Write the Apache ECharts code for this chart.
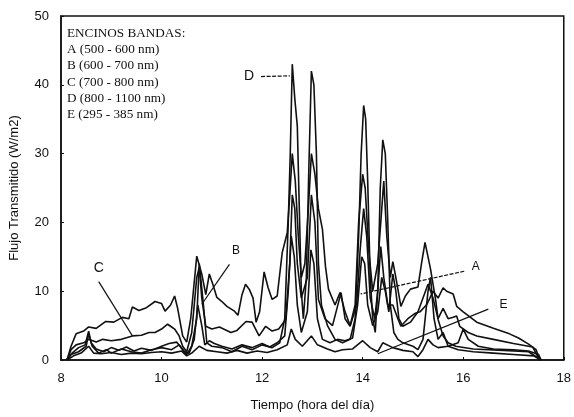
<!DOCTYPE html>
<html>
<head>
<meta charset="utf-8">
<script src="https://cdn.jsdelivr.net/npm/echarts@6/dist/echarts.min.js"></script>
<style>html,body{margin:0;padding:0;background:#fff}#c{width:574px;height:417px}</style>
</head>
<body>
<div id="c"></div>
<script>
// ---- data (hour of day, W/m2) ----
const xTicks = [8, 10, 12, 14, 16, 18];
const yTicks = [0, 10, 20, 30, 40, 50];

const timeD = [8.10,8.20,8.35,8.50,8.55,8.62,8.75,8.9,9.0,9.2,9.4,9.6,9.8,10.0,10.2,10.35,10.5,10.6,10.7,10.75,10.82,10.9,11.0,11.2,11.4,11.6,11.8,12.0,12.2,12.35,12.45,12.52,12.56,12.6,12.65,12.7,12.74,12.78,12.82,12.88,12.93,12.98,13.03,13.08,13.12,13.18,13.3,13.45,13.6,13.75,13.85,13.92,13.97,14.02,14.06,14.1,14.15,14.2,14.25,14.3,14.35,14.4,14.45,14.5,14.55,14.62,14.7,14.8,15.0,15.1,15.2,15.3,15.35,15.42,15.5,15.6,15.7,15.9,16.2,16.6,17.0,17.4,17.55];
const fluxD = [0,0.8,1.2,2.0,3.8,2.0,1.0,1.5,1.0,1.6,1.2,1.0,1.5,1.8,1.5,2.2,0.8,2.0,6,14,9,2.5,2.0,1.8,1.2,2.0,1.5,2.2,1.8,2.5,6,20,30,43,38,34,22,10,6,12,28,42,40,30,14,8,5,3,2.5,3,6,18,30,37,35,26,12,6,4,10,25,32,30,20,8,4,3,2.5,2.0,1.5,3,10,12,6,3,4,2,1.5,1.2,1.0,0.8,0.6,0];

const timeC = [8.12,8.2,8.3,8.45,8.55,8.7,8.89,9.05,9.22,9.35,9.42,9.55,9.7,9.87,10.0,10.07,10.18,10.26,10.32,10.42,10.5,10.58,10.7,10.8,10.88,10.95,11.02,11.1,11.2,11.3,11.45,11.52,11.6,11.67,11.75,11.82,11.88,11.95,12.04,12.12,12.2,12.3,12.4,12.5,12.55,12.6,12.66,12.72,12.78,12.85,12.92,12.98,13.05,13.12,13.2,13.26,13.32,13.45,13.55,13.65,13.75,13.85,13.92,14.0,14.05,14.12,14.2,14.3,14.36,14.42,14.48,14.55,14.6,14.66,14.76,14.85,14.95,15.1,15.17,15.24,15.3,15.35,15.45,15.5,15.6,15.7,15.85,16.2,16.8,17.3,17.55];
const fluxC = [0,2,3.8,4.2,4.8,4.6,5.6,5.5,6.2,6.0,7.7,7.2,7.6,8.5,8.2,7.1,8.0,9.3,7.5,3.5,2.6,6,15.1,12.5,9.5,12.5,11,9.1,8.5,7.8,7.1,6.5,9.5,11,10.2,9.0,5.5,7,12.8,10.5,8.8,9.3,15.6,18.5,24,30,26,18,12,14,22,30,27,22,19,13.6,10.3,8,9.8,7,5,8,20,27,25,16,10,14,20,26,18,12,14.3,12,7.8,9.3,10.3,10.6,14,17.1,15,13.2,8.8,5.9,3.5,2.5,2.0,1.6,1.4,1.2,0];

const timeB = [8.12,8.2,8.3,8.45,8.55,8.7,8.83,9.0,9.2,9.42,9.6,9.75,9.87,10.0,10.12,10.2,10.26,10.35,10.42,10.5,10.6,10.7,10.75,10.8,10.88,11.0,11.15,11.38,11.5,11.68,11.8,11.94,12.07,12.2,12.33,12.47,12.55,12.6,12.65,12.7,12.78,12.9,12.98,13.05,13.12,13.25,13.4,13.57,13.65,13.75,13.88,13.95,14.02,14.08,14.15,14.24,14.3,14.36,14.42,14.5,14.6,14.7,14.76,14.9,15.05,15.14,15.28,15.4,15.5,15.6,15.67,15.8,15.87,16.0,16.27,16.6,16.92,17.1,17.3,17.45,17.52];
const fluxB = [0,1.5,2.2,2.5,3.0,2.6,3.0,2.8,3.0,3.5,3.6,4.0,4.0,4.5,5.2,4.8,4.5,3.5,2.0,1.2,4,12,13.5,9,4.9,4.5,4.8,4.0,4.3,5.6,5.5,3.5,4.9,4.2,4.5,5.9,14,24,22,14,9,12,24,20,8.8,6,5,9.8,6,4.9,8,16,22,18,9,6,10,16.5,12,8,8,6,4.9,6,6.8,7.0,8.1,10,9,10.5,10,9.6,7.8,7,5.5,4.6,3.8,3.2,2.3,1.5,0];

const timeA = [8.12,8.22,8.35,8.48,8.55,8.6,8.7,8.85,9.0,9.15,9.3,9.45,9.6,9.8,10.0,10.15,10.3,10.45,10.55,10.65,10.72,10.8,10.86,10.95,11.05,11.2,11.4,11.6,11.8,12.0,12.15,12.3,12.45,12.52,12.58,12.64,12.7,12.78,12.9,12.97,13.03,13.1,13.2,13.35,13.5,13.65,13.8,13.9,13.98,14.04,14.1,14.2,14.3,14.38,14.45,14.52,14.6,14.66,14.72,14.8,14.95,15.1,15.2,15.3,15.4,15.5,15.6,15.7,15.8,15.87,15.93,16.1,16.27,16.6,17.0,17.38,17.52];
const fluxA = [0,1.0,1.8,2.2,4.2,2.5,1.6,1.2,1.8,1.4,1.9,1.3,1.7,1.4,2.0,2.4,2.6,1.2,1.0,3,8,5,2.2,2.8,2.4,2.0,1.6,2.2,1.8,2.4,1.9,2.5,3.5,10,18,15,8,4,7,16,14,6,3,2.5,3,2.8,3.2,8,15,14,8,5,7,12,10,7,12.5,10,6,4.9,5.5,7,9,11,9,6,7.5,6,6.2,6.4,4.9,4,3.5,3.0,2.4,1.9,0];

const timeE = [8.12,8.25,8.4,8.55,8.65,8.8,9.0,9.2,9.4,9.6,9.8,10.0,10.2,10.4,10.5,10.6,10.75,10.9,11.1,11.3,11.5,11.7,11.9,12.1,12.3,12.5,12.58,12.66,12.8,12.98,13.1,13.3,13.45,13.6,13.8,14.0,14.15,14.3,14.4,14.6,14.8,15.0,15.1,15.2,15.3,15.4,15.5,15.7,15.9,16.0,16.1,16.3,16.6,17.0,17.3,17.5,17.55];
const fluxE = [0,0.6,1.0,2.0,1.0,0.9,1.1,0.8,1.0,0.9,1.1,1.2,1.0,1.3,0.6,1.0,2.0,1.4,1.2,1.0,1.4,1.0,1.3,1.1,1.5,2.2,4.5,3.0,2.0,3.5,2.2,1.6,1.2,1.5,1.6,2.8,1.8,1.2,2.5,1.8,1.4,1.2,0.5,1.5,3,2.2,1.8,2.0,2.5,4.5,3,2.0,1.6,1.5,1.3,0.8,0];

const legendLines = ['ENCINOS BANDAS:', 'A (500 - 600 nm)', 'B (600 - 700 nm)', 'C (700 - 800 nm)', 'D (800 - 1100 nm)', 'E (295 - 385 nm)'];

// annotation letters and pointer lines (data coordinates)
const labelNames = ['C', 'B', 'D', 'A', 'E'];
const labelPos = [[8.75, 13.4], [11.48, 15.9], [11.74, 41.2], [16.25, 13.5], [16.8, 8.1]];
const pointerFrom = [[8.75, 11.4], [11.35, 13.9], [11.98, 41.2], [16.02, 12.9], [16.5, 7.4]];
const pointerTo = [[9.42, 3.5], [10.8, 8.1], [12.55, 41.3], [13.96, 9.6], [14.3, 0.9]];

// ---- chart ----
const pairs = (t, v) => t.map((x, i) => [x, v[i]]);
const chart = echarts.init(document.getElementById('c'), null, {renderer: 'canvas'});
const sans = 'Liberation Sans, Arial, sans-serif';

const lineSeries = [
  ['A', timeA, fluxA], ['B', timeB, fluxB], ['C', timeC, fluxC], ['D', timeD, fluxD], ['E', timeE, fluxE]
].map(([n, t, v]) => ({
  name: n, type: 'line', data: pairs(t, v), showSymbol: false, symbol: 'none',
  lineStyle: {color: '#111', width: 1.6}, silent: true, z: 2
}));

const annSeries = {
  type: 'line', data: [], silent: true,
  markLine: {
    silent: true, symbol: 'none',
    lineStyle: {color: '#111', width: 1.2, type: 'solid'},
    label: {show: false},
    data: pointerFrom.map((p, i) => [{coord: p, lineStyle: {type: labelNames[i] === 'D' || labelNames[i] === 'A' ? [4, 1.5] : 'solid'}}, {coord: pointerTo[i]}])
  },
  markPoint: {
    silent: true, symbol: 'circle', symbolSize: 0,
    label: {show: true, color: '#111', fontFamily: sans, position: 'inside'},
    data: labelNames.map((n, i) => ({coord: labelPos[i], value: n,
      label: {formatter: n, fontSize: (n === 'D' || n === 'C') ? 14 : 12}}))
  }
};

chart.setOption({
  animation: false,
  backgroundColor: '#fff',
  title: {
    text: legendLines.join('\n'), left: 67, top: 25, padding: 0,
    textStyle: {fontFamily: 'Liberation Serif, Times New Roman, serif', fontSize: 13.2, fontWeight: 'normal', color: '#111', lineHeight: 16.3}
  },
  grid: {left: 60, right: 6, top: 16, bottom: 56, show: true, borderColor: '#111', borderWidth: 1.5, backgroundColor: 'transparent'},
  xAxis: {
    type: 'value', min: 8, max: 18, interval: 2,
    name: 'Tiempo (hora del día)', nameLocation: 'middle', nameGap: 39,
    nameTextStyle: {fontFamily: sans, fontSize: 13, color: '#111'},
    axisLine: {show: true, lineStyle: {color: '#111', width: 1.5}},
    axisTick: {show: true, inside: true, length: 3, lineStyle: {color: '#111'}},
    axisLabel: {fontFamily: sans, fontSize: 13, color: '#111', margin: 12, formatter: v => xTicks.includes(v) ? String(v) : ''},
    splitLine: {show: false}
  },
  yAxis: {
    type: 'value', min: 0, max: 50, interval: 10,
    name: 'Flujo Transmitido (W/m2)', nameLocation: 'middle', nameGap: 40,
    nameTextStyle: {fontFamily: sans, fontSize: 13, color: '#111'},
    axisLine: {show: true, lineStyle: {color: '#111', width: 1.5}},
    axisTick: {show: true, inside: true, length: 3, lineStyle: {color: '#111'}},
    axisLabel: {fontFamily: sans, fontSize: 13, color: '#111', margin: 12, formatter: v => yTicks.includes(v) ? String(v) : ''},
    splitLine: {show: false}
  },
  series: lineSeries.concat([annSeries])
});
</script>
</body>
</html>
